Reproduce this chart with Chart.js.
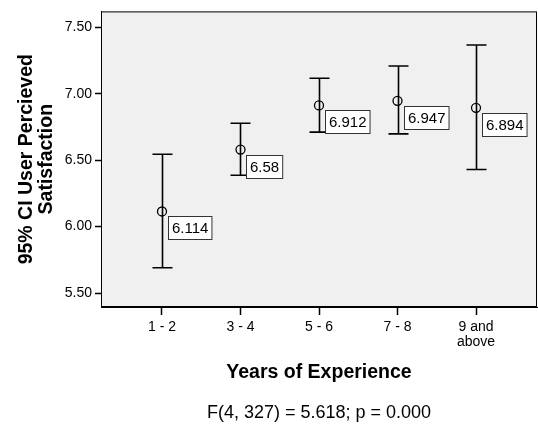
<!DOCTYPE html>
<html>
<head>
<meta charset="utf-8">
<script src="https://cdn.jsdelivr.net/npm/chart.js@4/dist/chart.umd.min.js"></script>
<style>
  html, body { margin: 0; padding: 0; background: #fff; }
  #wrap { width: 538px; height: 425px; }
</style>
</head>
<body>
<div id="wrap"><canvas id="ciChart" width="538" height="425"></canvas></div>
<script>
// group labels and the 95% CI numbers
const groups = ['1 - 2', '3 - 4', '5 - 6', '7 - 8', '9 and above'];
const tickLabels = ['1 - 2', '3 - 4', '5 - 6', '7 - 8', ['9 and', 'above']];
const means = [6.114, 6.58, 6.912, 6.947, 6.894];
const lower = [5.69, 6.387, 6.711, 6.698, 6.43];
const upper = [6.545, 6.778, 7.117, 7.209, 7.367];
const yTicks = [5.5, 6.0, 6.5, 7.0, 7.5];

const FONT = 'Arial, "Liberation Sans", Helvetica, sans-serif';

const points = means.map((m, i) => ({ x: i + 1, y: m }));

// grey plot area + full frame
const frame = {
  id: 'frame',
  beforeDraw(chart) {
    const { ctx, chartArea: a } = chart;
    ctx.save();
    ctx.fillStyle = '#f0f0f0';
    ctx.fillRect(a.left, a.top, a.right - a.left, a.bottom - a.top);
    ctx.restore();
  },
  afterDraw(chart) {
    const { ctx, chartArea: a } = chart;
    ctx.save();
    ctx.strokeStyle = '#000';
    ctx.lineWidth = 1;
    ctx.strokeRect(a.left + 0.5, a.top + 0.5, a.right - a.left - 1, a.bottom - a.top - 1);
    ctx.restore();
  }
};

// whiskers and value boxes
const errorBars = {
  id: 'errorBars',
  beforeDatasetsDraw(chart) {
    const { ctx, scales: { x, y } } = chart;
    ctx.save();
    ctx.strokeStyle = '#000';
    ctx.lineWidth = 1.6;
    groups.forEach((g, i) => {
      const px = Math.round(x.getPixelForValue(i + 1)) + 0.5;
      const yl = y.getPixelForValue(lower[i]);
      const yu = y.getPixelForValue(upper[i]);
      ctx.beginPath();
      ctx.moveTo(px, yu);
      ctx.lineTo(px, yl);
      ctx.moveTo(px - 10, yu);
      ctx.lineTo(px + 10, yu);
      ctx.moveTo(px - 10, yl);
      ctx.lineTo(px + 10, yl);
      ctx.stroke();
    });
    ctx.restore();
  },
  afterDatasetsDraw(chart) {
    const { ctx, scales: { x, y } } = chart;
    ctx.save();
    ctx.font = '15px ' + FONT;
    ctx.textBaseline = 'middle';
    ctx.textAlign = 'left';
    means.forEach((m, i) => {
      const px = x.getPixelForValue(i + 1);
      const py = y.getPixelForValue(m);
      const txt = String(m);
      const w = ctx.measureText(txt).width + 7;
      const h = 23;
      const bx = Math.round(px + 6) + 0.5;
      const by = Math.round(py + 5) + 0.5;
      ctx.fillStyle = '#fff';
      ctx.fillRect(bx, by, w, h);
      ctx.strokeStyle = '#333';
      ctx.lineWidth = 1;
      ctx.strokeRect(bx, by, w, h);
      ctx.fillStyle = '#000';
      ctx.fillText(txt, bx + 3.5, by + h / 2 + 1);
    });
    ctx.restore();
  }
};

new Chart(document.getElementById('ciChart'), {
  type: 'scatter',
  data: {
    datasets: [{
      label: 'Mean',
      data: points,
      pointStyle: 'circle',
      pointRadius: 4.5,
      pointHoverRadius: 4.5,
      pointBorderWidth: 1.3,
      borderColor: '#000',
      backgroundColor: 'rgba(0,0,0,0)',
      showLine: false,
    }],
  },
  options: {
    responsive: false,
    animation: false,
    events: [],
    layout: { autoPadding: false, padding: { left: 0, right: 1, top: 11, bottom: 0 } },
    plugins: {
      legend: { display: false },
      tooltip: { enabled: false },
      title: {
        display: true,
        position: 'bottom',
        fullSize: false,
        text: 'F(4, 327) = 5.618; p = 0.000',
        color: '#000',
        font: { family: FONT, size: 18, weight: 'normal', lineHeight: 1.2 },
        padding: { top: 0, bottom: 1 },
      },
    },
    scales: {
      x: {
        type: 'linear',
        min: 0.223,
        max: 5.777,
        afterBuildTicks: s => { s.ticks = groups.map((g, i) => ({ value: i + 1 })); },
        afterFit: s => {
          s.height = 95.4;
          s.paddingLeft = 0;
          s.paddingRight = 0;
        },
        ticks: {
          color: '#000',
          padding: 5,
          maxRotation: 0,
          font: { family: FONT, size: 14, lineHeight: 1.05 },
          callback: v => tickLabels[v - 1],
        },
        grid: { drawOnChartArea: false, drawTicks: true, tickLength: 8, color: '#000', tickWidth: 1.5 },
        border: { display: true, color: '#000', width: 1 },
        title: {
          display: true,
          text: 'Years of Experience',
          color: '#000',
          font: { family: FONT, size: 19.5, weight: 'bold', lineHeight: 1.15 },
          padding: { top: 0, bottom: 19 },
        },
      },
      y: {
        min: 5.395,
        max: 7.62,
        afterBuildTicks: s => { s.ticks = yTicks.map(v => ({ value: v })); },
        afterFit: s => { s.width = 101; },
        ticks: {
          color: '#000',
          padding: 3,
          font: { family: FONT, size: 14 },
          callback: v => v.toFixed(2),
        },
        grid: { drawOnChartArea: false, drawTicks: true, tickLength: 6, color: '#000', tickWidth: 1.5 },
        border: { display: true, color: '#000', width: 1 },
        title: {
          display: true,
          text: ['95% CI User Percieved', 'Satisfaction'],
          color: '#000',
          font: { family: FONT, size: 19.5, weight: 'bold', lineHeight: 1.02 },
          padding: { top: 16.5, bottom: 0 },
        },
      },
    },
  },
  plugins: [frame, errorBars],
});
</script>
</body>
</html>
